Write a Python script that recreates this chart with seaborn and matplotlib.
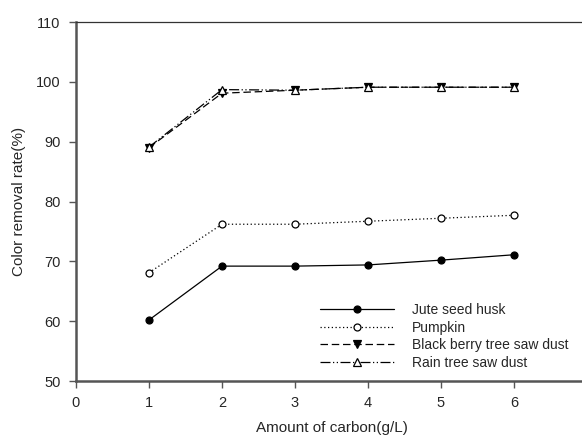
import numpy as np
import pandas as pd
import matplotlib
matplotlib.use("Agg")
import matplotlib.pyplot as plt
import seaborn as sns

sns.set_style("white")
plt.rcParams['font.family'] = ['Liberation Sans', 'DejaVu Sans']

# data
carbon = [1, 2, 3, 4, 5, 6]
jute = [60.2, 69.2, 69.2, 69.4, 70.2, 71.1]
pumpkin = [68.1, 76.2, 76.2, 76.7, 77.2, 77.7]
blackberry = [89.0, 98.1, 98.6, 99.1, 99.1, 99.1]
raintree = [89.1, 98.7, 98.6, 99.1, 99.1, 99.1]

names = ["Jute seed husk", "Pumpkin", "Black berry tree saw dust", "Rain tree saw dust"]
series = [jute, pumpkin, blackberry, raintree]

styles = [
    dict(marker="o", markerfacecolor="black", linestyle="-", markersize=5),
    dict(marker="o", markerfacecolor="white", linestyle=(0, (1, 2)), markersize=5),
    dict(marker="v", markerfacecolor="black", linestyle=(0, (6, 3)), markersize=5.5),
    dict(marker="^", markerfacecolor="white", linestyle=(0, (8, 2, 1, 2, 1, 2)), markersize=5.5),
]

fig = plt.figure(figsize=(5.82, 4.36), dpi=100)
ax = fig.add_axes([76 / 582, 1 - 381 / 436, 511 / 582, 359 / 436])

for name, vals, st in zip(names, series, styles):
    df = pd.DataFrame({"x": carbon, "y": vals})
    sns.lineplot(data=df, x="x", y="y", ax=ax, color="black", linewidth=0.9,
                 markeredgecolor="black", markeredgewidth=0.9, label=name, **st)

ax.set_xlim(0, 7)
ax.set_ylim(50, 110)
ax.set_xticks([0, 1, 2, 3, 4, 5, 6])
ax.set_yticks([50, 60, 70, 80, 90, 100, 110])
ax.set_xlabel("Amount of carbon(g/L)", fontsize=11, labelpad=8)
ax.set_ylabel("Color removal rate(%)", fontsize=11, labelpad=7)
ax.tick_params(axis="both", labelsize=10.5, direction="out", length=5, width=1,
               color="#555555", bottom=True, left=True, pad=6)

for s in ["left", "bottom"]:
    ax.spines[s].set_color("#555555")
    ax.spines[s].set_linewidth(1.8)
ax.spines["top"].set_color("#333333")
ax.spines["top"].set_linewidth(0.9)
ax.spines["right"].set_visible(False)

ax.legend(loc="upper left", bbox_to_anchor=(0.464, 0.236), frameon=False,
          fontsize=10, handlelength=5.3, handletextpad=1.3, labelspacing=0.25,
          borderpad=0)

fig.savefig("out.png", dpi=100)
